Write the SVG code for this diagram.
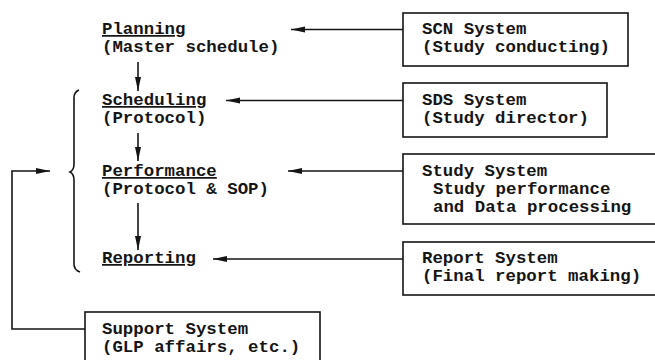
<svg xmlns="http://www.w3.org/2000/svg" width="655" height="360" viewBox="0 0 655 360">
  <style>
    text { font-family: "Liberation Mono", "Courier New", monospace; font-size: 17.4px; font-weight: bold; fill: #151515; }
    .title { text-decoration: underline; }
    .box { fill: none; stroke: #151515; stroke-width: 1.6; }
    .ln { fill: none; stroke: #151515; stroke-width: 1.6; }
  </style>
  <defs>
    <marker id="arrow" viewBox="0 0 14 8" refX="14" refY="4" markerWidth="14" markerHeight="8" markerUnits="userSpaceOnUse" orient="auto">
      <path d="M0,1 L14,4 L0,7 Z" fill="#151515"/>
    </marker>
  </defs>
  <rect width="655" height="360" fill="#ffffff"/>

  <!-- activity stages -->
  <g id="planning">
    <text class="title" x="102" y="34">Planning</text>
    <text x="102" y="52">(Master schedule)</text>
  </g>
  <g id="scheduling">
    <text class="title" x="102" y="105">Scheduling</text>
    <text x="102" y="123">(Protocol)</text>
  </g>
  <g id="performance">
    <text class="title" x="102" y="176">Performance</text>
    <text x="102" y="194">(Protocol &amp; SOP)</text>
  </g>
  <g id="reporting">
    <text class="title" x="102" y="263">Reporting</text>
  </g>

  <!-- bracket grouping scheduling through reporting -->
  <g id="bracket">
    <path class="ln" stroke-width="1.3" d="M79,90 Q74,92 74,98 L74,164 Q74,170 70,172 Q74,174 74,180 L74,264 Q74,270 80,272"/>
  </g>

  <!-- supporting systems -->
  <g id="scn-system">
    <rect class="box" x="403" y="13" width="225" height="53"/>
    <text x="422" y="34">SCN System</text>
    <text x="422" y="52">(Study conducting)</text>
  </g>
  <g id="sds-system">
    <rect class="box" x="403" y="83" width="204" height="54"/>
    <text x="422" y="105">SDS System</text>
    <text x="422" y="123">(Study director)</text>
  </g>
  <g id="study-system">
    <rect class="box" x="403" y="154" width="260" height="70"/>
    <text x="422" y="176">Study System</text>
    <text x="433" y="194">Study performance</text>
    <text x="433" y="212">and Data processing</text>
  </g>
  <g id="report-system">
    <rect class="box" x="403" y="242" width="260" height="53"/>
    <text x="422" y="263">Report System</text>
    <text x="422" y="281">(Final report making)</text>
  </g>
  <g id="support-system">
    <rect class="box" x="85" y="312" width="235" height="56"/>
    <text x="102" y="334">Support System</text>
    <text x="102" y="352">(GLP affairs, etc.)</text>
  </g>

  <!-- connectors -->
  <g id="connectors">
    <line class="ln" x1="403" y1="29.5" x2="291" y2="29.5" marker-end="url(#arrow)"/>
    <line class="ln" x1="403" y1="100.5" x2="226" y2="100.5" marker-end="url(#arrow)"/>
    <line class="ln" x1="403" y1="171" x2="288" y2="171" marker-end="url(#arrow)"/>
    <line class="ln" x1="403" y1="259" x2="213" y2="259" marker-end="url(#arrow)"/>
    <line class="ln" x1="138" y1="62" x2="138" y2="91" marker-end="url(#arrow)"/>
    <line class="ln" x1="138" y1="133" x2="138" y2="161" marker-end="url(#arrow)"/>
    <line class="ln" x1="138" y1="203" x2="138" y2="250" marker-end="url(#arrow)"/>
    <polyline class="ln" points="85,329 12,329 12,171 50,171" marker-end="url(#arrow)"/>
  </g>
</svg>
